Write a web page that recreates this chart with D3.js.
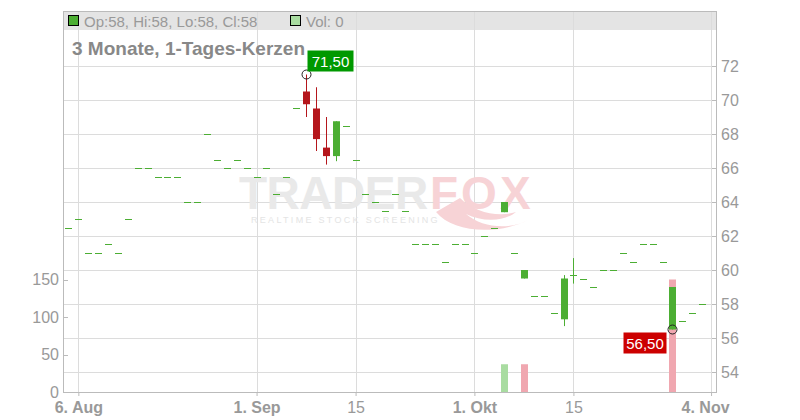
<!DOCTYPE html>
<html><head><meta charset="utf-8">
<script src="https://cdn.jsdelivr.net/npm/d3@7"></script>
<style>body{margin:0;background:#fff}svg{display:block;font-family:"Liberation Sans",Arial,sans-serif}</style>
</head><body><svg id="c" width="800" height="420"></svg>
<script>
// ---- data (index = trading day) ----
const opens  = [62.5,63,61,61,61.5,61,63,66,66,65.5,65.5,65.5,64,64,68,66.5,66,66.5,66,65.5,66,64.5,65.5,69.5,70.5,69.5,67.2,66.7,68.5,66.5,64.5,64,63.5,64.5,63.5,61.5,61.5,61.5,60.5,61.5,61.5,61,62,62.5,63.4,61,59.5,58.5,58.5,57.5,57.1,59.7,59.5,59,60,60,61,60.5,61.5,61.5,60.5,56.5,57,57.5,58];
const highs  = [62.5,63,61,61,61.5,61,63,66,66,65.5,65.5,65.5,64,64,68,66.5,66,66.5,66,65.5,66,64.5,65.5,69.5,71.5,70.75,69,68.75,68.5,66.5,64.5,64,63.5,64.5,63.5,61.5,61.5,61.5,60.5,61.5,61.5,61,62,62.5,64,61,60,58.5,58.5,57.5,59.7,60.7,59.5,59,60,60,61,60.5,61.5,61.5,60.5,59,57,57.5,58];
const lows   = [62.5,63,61,61,61.5,61,63,66,66,65.5,65.5,65.5,64,64,68,66.5,66,66.5,66,65.5,66,64.5,65.5,69.5,69,67,66.2,66.4,68.5,66.5,64.5,64,63.5,64.5,63.5,61.5,61.5,61.5,60.5,61.5,61.5,61,62,62.5,63.4,61,59.5,58.5,58.5,57.5,56.7,59.2,59.5,59,60,60,61,60.5,61.5,61.5,60.5,56.5,57,57.5,58];
const closes = [62.5,63,61,61,61.5,61,63,66,66,65.5,65.5,65.5,64,64,68,66.5,66,66.5,66,65.5,66,64.5,65.5,69.5,69.75,67.7,66.7,68.75,68.5,66.5,64.5,64,63.5,64.5,63.5,61.5,61.5,61.5,60.5,61.5,61.5,61,62,62.5,64,61,60,58.5,58.5,57.5,59.5,59.7,59.5,59,60,60,61,60.5,61.5,61.5,60.5,59,57,57.5,58];
const volumes = opens.map(()=>0);
volumes[44]=37; volumes[46]=37; volumes[61]=150;
const xTickIndex = [1,19,29,41,51,64.9];
const xTickLabels = ["6. Aug","1. Sep","15","1. Okt","15","4. Nov"];
const xTickBold = [true,true,false,true,false,true];
const priceTicks = [54,56,58,60,62,64,66,68,70,72];
const volTicks = [0,50,100,150];
const maxLabel = {index:24, value:71.5, text:"71,50"};
const minLabel = {index:61, value:56.5, text:"56,50"};

// ---- layout ----
const L=63, R=716, T=11, B=392;
const svg = d3.select("#c");
const x = d3.scaleLinear().domain([-0.55,65.4]).range([L,R]);
const y = d3.scaleLinear().domain([54,72]).range([372,66]);
const yv = d3.scaleLinear().domain([0,200]).range([B,242]);
const GREEN="#4cae33", RED="#b5161c", GRID="#dcdcdc", AX="#bbbbbb", TXT="#999999";

// header band
svg.append("rect").attr("x",L).attr("y",T).attr("width",R-L).attr("height",19).attr("fill","#e4e4e4");

// grid
svg.append("g").selectAll("line").data(priceTicks).join("line")
  .attr("x1",L).attr("x2",R).attr("y1",d=>Math.round(y(d))+0.5).attr("y2",d=>Math.round(y(d))+0.5)
  .attr("stroke",GRID);
svg.append("g").selectAll("line").data(xTickIndex).join("line")
  .attr("x1",d=>Math.round(x(d))+0.5).attr("x2",d=>Math.round(x(d))+0.5).attr("y1",T).attr("y2",B)
  .attr("stroke",GRID);

// watermark
const wm = svg.append("g").attr("font-weight","bold").attr("font-size",46);
wm.append("text").attr("x",239).attr("y",209).attr("fill","#e9e9e9").attr("letter-spacing",-0.5).text("TRADER");
wm.append("text").attr("x",430).attr("y",209).attr("fill","#f7d3d6").attr("letter-spacing",3).text("FOX");
svg.append("path").attr("d","M436,212 C452,232 496,236 528,220 C510,230 482,228 466,214 C482,222 504,222 516,212 C498,218 474,212 460,198 Z")
  .attr("fill","#f7d3d6");
svg.append("text").attr("x",251).attr("y",223).attr("font-size",9).attr("letter-spacing",2.3)
  .attr("fill","#e4e4e4").text("REALTIME STOCK SCREENING");

// axes lines
svg.append("line").attr("x1",L).attr("x2",R).attr("y1",T+0.5).attr("y2",T+0.5).attr("stroke",AX);
svg.append("line").attr("x1",L+0.5).attr("x2",L+0.5).attr("y1",T).attr("y2",B).attr("stroke",AX);
svg.append("line").attr("x1",R+0.5).attr("x2",R+0.5).attr("y1",T).attr("y2",B).attr("stroke",AX);
svg.append("line").attr("x1",L).attr("x2",R+1).attr("y1",B+0.5).attr("y2",B+0.5).attr("stroke",AX);

// right price axis
const ra = svg.append("g").attr("transform",`translate(${R},0)`)
  .call(d3.axisRight(y).tickValues(priceTicks).tickSize(0).tickPadding(5).tickFormat(d3.format("d")));
ra.select(".domain").remove();
ra.selectAll("text").attr("fill",TXT).attr("font-size",16).attr("font-family","Liberation Sans, Arial");
svg.append("g").selectAll("line").data(priceTicks).join("line")
  .attr("x1",R-4).attr("x2",R).attr("y1",d=>Math.round(y(d))+0.5).attr("y2",d=>Math.round(y(d))+0.5).attr("stroke",AX);

// left volume axis
const la = svg.append("g").attr("transform",`translate(${L},0)`)
  .call(d3.axisLeft(yv).tickValues(volTicks).tickSize(0).tickPadding(4).tickFormat(d3.format("d")));
la.select(".domain").remove();
la.selectAll("text").attr("fill",TXT).attr("font-size",16).attr("font-family","Liberation Sans, Arial");
svg.append("g").selectAll("line").data(volTicks).join("line")
  .attr("x1",L).attr("x2",L+5).attr("y1",d=>Math.round(yv(d))+0.5).attr("y2",d=>Math.round(yv(d))+0.5).attr("stroke",AX);

// bottom axis
const ba = svg.append("g").attr("transform",`translate(0,${B})`)
  .call(d3.axisBottom(x).tickValues(xTickIndex).tickSize(4).tickPadding(6).tickFormat((d,i)=>xTickLabels[i]));
ba.select(".domain").remove();
ba.selectAll(".tick line").attr("stroke",AX);
ba.selectAll("text").attr("fill",TXT).attr("font-size",16).attr("font-family","Liberation Sans, Arial")
  .attr("font-weight",(d,i)=>xTickBold[i]?"bold":"normal");
ba.selectAll(".tick").filter((d,i)=>i===xTickIndex.length-1).select("text").attr("dx",-6);

// volume bars
const vdata = volumes.map((v,i)=>({i,v,up: i===0 ? true : closes[i]>=closes[i-1]})).filter(d=>d.v>0);
svg.append("g").selectAll("rect").data(vdata).join("rect")
  .attr("x",d=>Math.round(x(d.i))-3).attr("width",7)
  .attr("y",d=>yv(d.v)).attr("height",d=>B-yv(d.v))
  .attr("fill",d=>d.up?"#a9dca1":"#f0a7b0");

// candles
const cdata = opens.map((o,i)=>({i,o,h:highs[i],l:lows[i],c:closes[i]}));
const cg = svg.append("g");
cdata.forEach(d=>{
  const cx = Math.round(x(d.i));
  const col = d.c>=d.o ? GREEN : RED;
  if (d.h!==d.l) {
    cg.append("line").attr("x1",cx+0.5).attr("x2",cx+0.5).attr("y1",y(d.h)).attr("y2",y(d.l)).attr("stroke",col);
  }
  const top = y(Math.max(d.o,d.c)), bot = y(Math.min(d.o,d.c));
  if (bot-top < 1) {
    cg.append("line").attr("x1",cx-3).attr("x2",cx+4).attr("y1",Math.round(top)+0.5).attr("y2",Math.round(top)+0.5).attr("stroke",col);
  } else {
    cg.append("rect").attr("x",cx-3).attr("width",7).attr("y",top).attr("height",bot-top).attr("fill",col);
  }
});

// extreme markers
[maxLabel,minLabel].forEach((m,k)=>{
  const cx = Math.round(x(m.index))+0.5, cy = y(m.value);
  svg.append("circle").attr("cx",cx).attr("cy",cy).attr("r",4.5).attr("fill","none").attr("stroke","#222");
  const w=46, h=21;
  const bx = k===0 ? cx+1 : cx-4-w+1;
  const by = k===0 ? cy-h-3 : cy+3;
  svg.append("rect").attr("x",bx).attr("y",by).attr("width",w-(k?3:0)).attr("height",h).attr("fill",k===0?"#009900":"#cc0000");
  svg.append("text").attr("x",bx+(w-(k?3:0))/2).attr("y",by+16).attr("text-anchor","middle")
    .attr("fill","#fff").attr("font-size",15).text(m.text);
});

// legend
const last = opens.length-1;
svg.append("rect").attr("x",68.5).attr("y",15.5).attr("width",10).attr("height",10).attr("fill",GREEN).attr("stroke","#000");
svg.append("text").attr("x",84).attr("y",26.5).attr("fill",TXT).attr("font-size",15)
  .text(`Op:${opens[last]}, Hi:${highs[last]}, Lo:${lows[last]}, Cl:${closes[last]}`);
svg.append("rect").attr("x",290.5).attr("y",15.5).attr("width",10).attr("height",10).attr("fill","#a9dca1").attr("stroke","#000");
svg.append("text").attr("x",306).attr("y",26.5).attr("fill",TXT).attr("font-size",15).text(`Vol: ${volumes[last]}`);

// title
svg.append("text").attr("x",72).attr("y",55).attr("fill","#888").attr("font-size",19).attr("font-weight","bold")
  .text("3 Monate, 1-Tages-Kerzen");
</script></body></html>
